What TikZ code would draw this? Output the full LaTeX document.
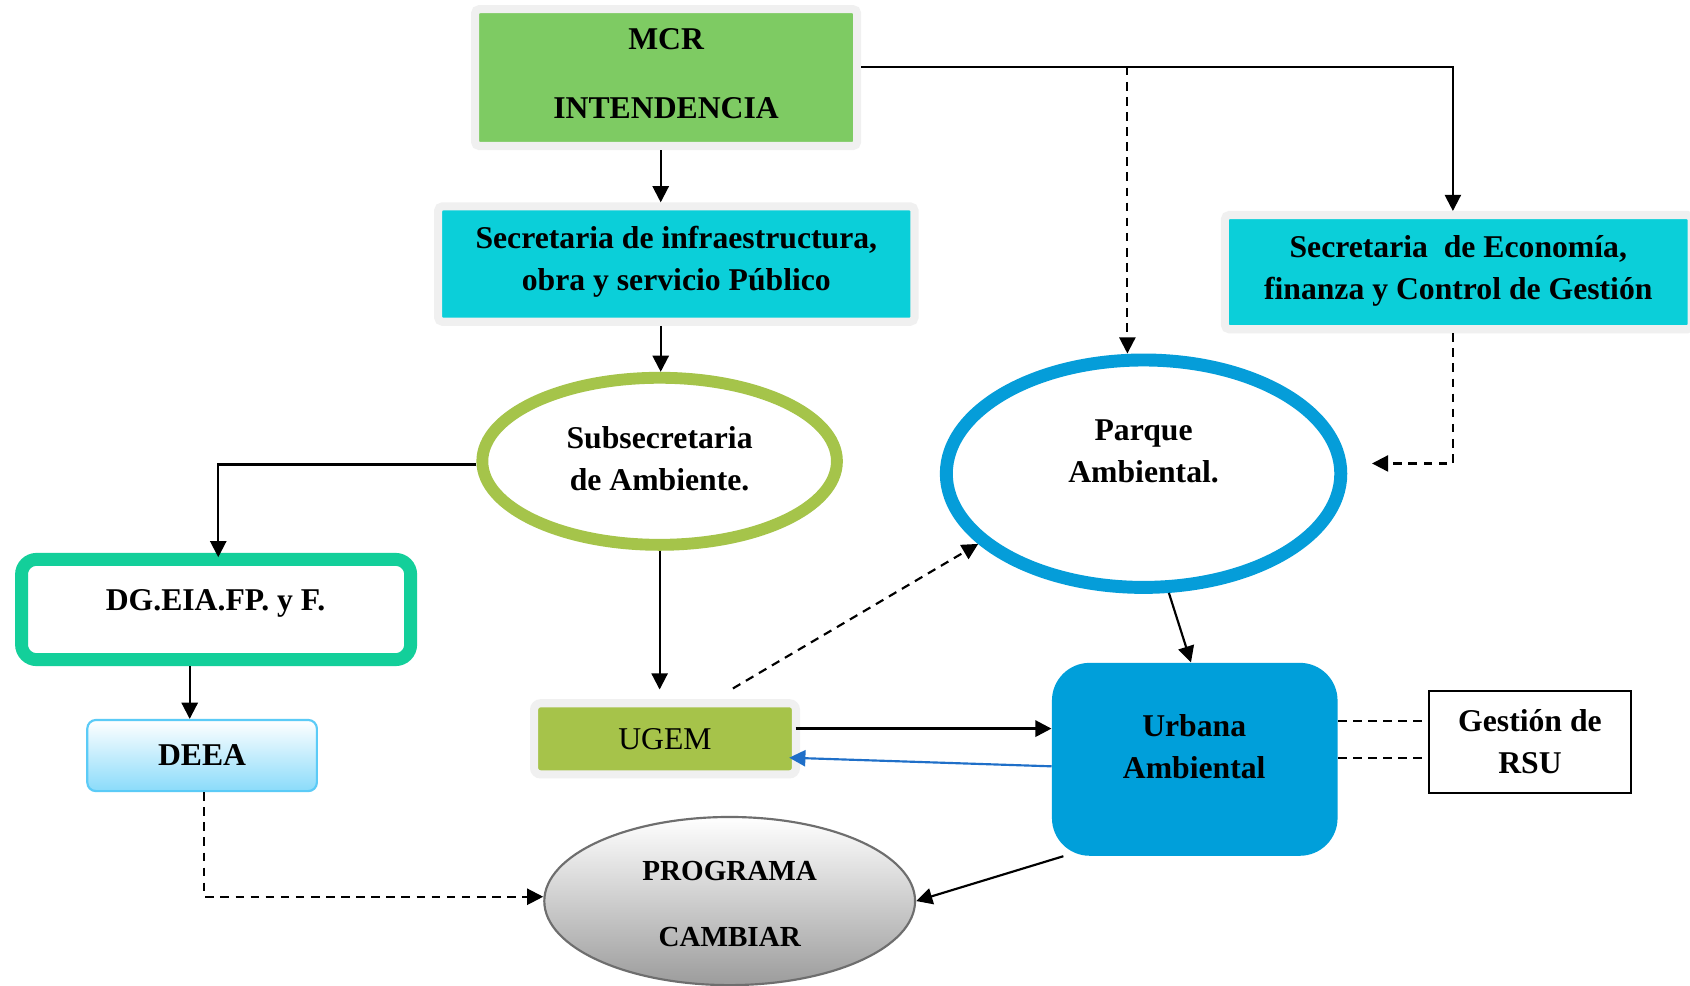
\documentclass[tikz,border=0pt]{standalone}
\usepackage{fontspec}
\setmainfont{Liberation Serif}
\usetikzlibrary{shapes.geometric,arrows.meta}
\definecolor{grayB}{HTML}{F0F0F0}
\definecolor{mcrG}{HTML}{7ECB63}
\definecolor{cyanF}{HTML}{0BCFD9}
\definecolor{subG}{HTML}{A5C44A}
\definecolor{parqB}{HTML}{059DD9}
\definecolor{dgT}{HTML}{13CF9A}
\definecolor{deeaS}{HTML}{5BCBF7}
\definecolor{deeaB}{HTML}{8ADBFA}
\definecolor{ugemG}{HTML}{A6C34A}
\definecolor{urbB}{HTML}{009FDA}
\definecolor{arrB}{HTML}{1F6FC8}
\definecolor{progS}{HTML}{6E6E6E}
\definecolor{progB}{HTML}{9C9C9C}
\tikzset{
  every node/.style={font=\bfseries\fontsize{14.7}{19.5}\selectfont, align=center, inner sep=0pt},
  line/.style={line width=1pt, -{Triangle[length=7.5pt,width=7.5pt]}},
  dline/.style={line, dash pattern=on 4pt off 3pt},
  blueline/.style={line width=1pt, draw=arrB, -{Triangle[length=7.5pt,width=7.5pt]}, arrB},
  graybox/.style={rectangle, draw=grayB, line width=3.75pt, rounded corners=2pt},
}
\begin{document}
\begin{tikzpicture}[x=0.5pt, y=-0.5pt]
\path[use as bounding box] (0,0) rectangle (1568,914);
\clip (0,0) rectangle (1568,914);
\fill[white] (0,0) rectangle (1568,914);

% boxes
\node[graybox, fill=mcrG, minimum width=177.25pt, minimum height=63.5pt] (mcr) at (618,72) {};
\node (mcrT) at (618,68.5) {MCR\\[12.5pt]INTENDENCIA};
\node[graybox, fill=cyanF, minimum width=221pt, minimum height=53.5pt] (secinfra) at (627.5,245) {};
\node (secinfraT) at (627.5,243) {Secretaria de infraestructura,\\obra y servicio Público};
\node[graybox, fill=cyanF, minimum width=216.5pt, minimum height=53pt] (sececon) at (1353,252.5) {};
\node (sececonT) at (1353,251) {Secretaria\ \ de Economía,\\finanza y Control de Gestión};
\node[ellipse, draw=subG, line width=5.5pt, fill=white, minimum width=164.5pt, minimum height=77.5pt] (subsec) at (612,428) {};
\node (subsecT) at (612,425.5) {Subsecretaria\\de Ambiente.};
\node[ellipse, draw=parqB, line width=6pt, fill=white, minimum width=183pt, minimum height=105.5pt] (parque) at (1061,439.5) {};
\node (parqueT) at (1061,418.5) {Parque\\Ambiental.};
\node[rectangle, draw=dgT, line width=6pt, rounded corners=7pt, fill=white, minimum width=180.5pt, minimum height=46.5pt] (dg) at (200.5,565.5) {};
\node (dgT) at (200,559.5) {DG.EIA.FP. y F.};
\node[rectangle, draw=deeaS, line width=1pt, rounded corners=4pt, top color=white, bottom color=deeaB, minimum width=106.5pt, minimum height=33pt] (deea) at (187.5,701) {DEEA};
\node[graybox, fill=ugemG, rounded corners=3pt, minimum width=121.5pt, minimum height=33pt, font=\mdseries\fontsize{14.7}{19.5}\selectfont] (ugem) at (617,685.5) {UGEM};
\node[rectangle, fill=urbB, rounded corners=17.5pt, minimum width=132.5pt, minimum height=89.5pt] (urbana) at (1108.5,704.5) {};
\node (urbanaT) at (1108,692.5) {Urbana\\Ambiental};
\node[rectangle, draw=black, line width=1pt, fill=white, minimum width=93.5pt, minimum height=47.5pt] (gestion) at (1419.5,688.5) {Gestión de\\RSU};
\node[ellipse, draw=progS, line width=1pt, top color=white, bottom color=progB, minimum width=172pt, minimum height=78pt] (programa) at (677,836) {};
\node[font=\bfseries\fontsize{13.5}{19.5}\selectfont] (programaT) at (677,839) {PROGRAMA\\[11pt]CAMBIAR};

% connectors
\coordinate (col) at (613,0);
\draw[line] (mcr.south -| col) -- (secinfra.north -| col);
\draw[line] (secinfra.south -| col) -- (subsec.north -| col);
\coordinate (c1) at ([yshift=5pt]mcr.east);
\draw[line] (c1) -| ([xshift=-2.5pt]sececon.north);
\coordinate (j1) at (1046,62);
\draw[dline] (j1) -- (j1 |- parque.north);
\coordinate (e1) at (1273,430);
\draw[dline] ([xshift=-2.5pt]sececon.south) |- (e1);
\coordinate (f1) at ([yshift=-1.5pt]subsec.west);
\draw[line] (f1) -| ([xshift=1pt,yshift=-2pt]dg.north);
\coordinate (g1) at ([xshift=-12.25pt]dg.south);
\draw[line] (g1) -- (g1 |- deea.north);
\draw[line, shorten >=4.5pt] (subsec.south) -- (subsec.south |- ugem.north);
\coordinate (i1) at ([xshift=31.5pt,yshift=5pt]ugem.north);
\draw[dline] (i1) -- (parque.203);
\draw[line] (parque.-78) -- ([xshift=-1.75pt]urbana.north);
\coordinate (k1) at ([xshift=-2pt,yshift=4.75pt]ugem.east);
\draw[line, line width=1.3pt] (k1) -- (k1 -| urbana.west);
\draw[blueline] ([yshift=-3.25pt]urbana.west) -- ([yshift=-8.75pt,xshift=-5pt]ugem.east);
\coordinate (m1) at ([yshift=9.75pt]gestion.west);
\coordinate (m2) at ([yshift=-7.25pt]gestion.west);
\draw[line width=1pt, dash pattern=on 4pt off 3pt] (m1 -| urbana.east) -- (m1);
\draw[line width=1pt, dash pattern=on 4pt off 3pt] (m2 -| urbana.east) -- (m2);
\draw[dline] ([xshift=1pt]deea.south) |- ([yshift=2pt]programa.west);
\draw[line] ([xshift=5.5pt]urbana.south west) -- (programa.east);
\end{tikzpicture}
\end{document}
